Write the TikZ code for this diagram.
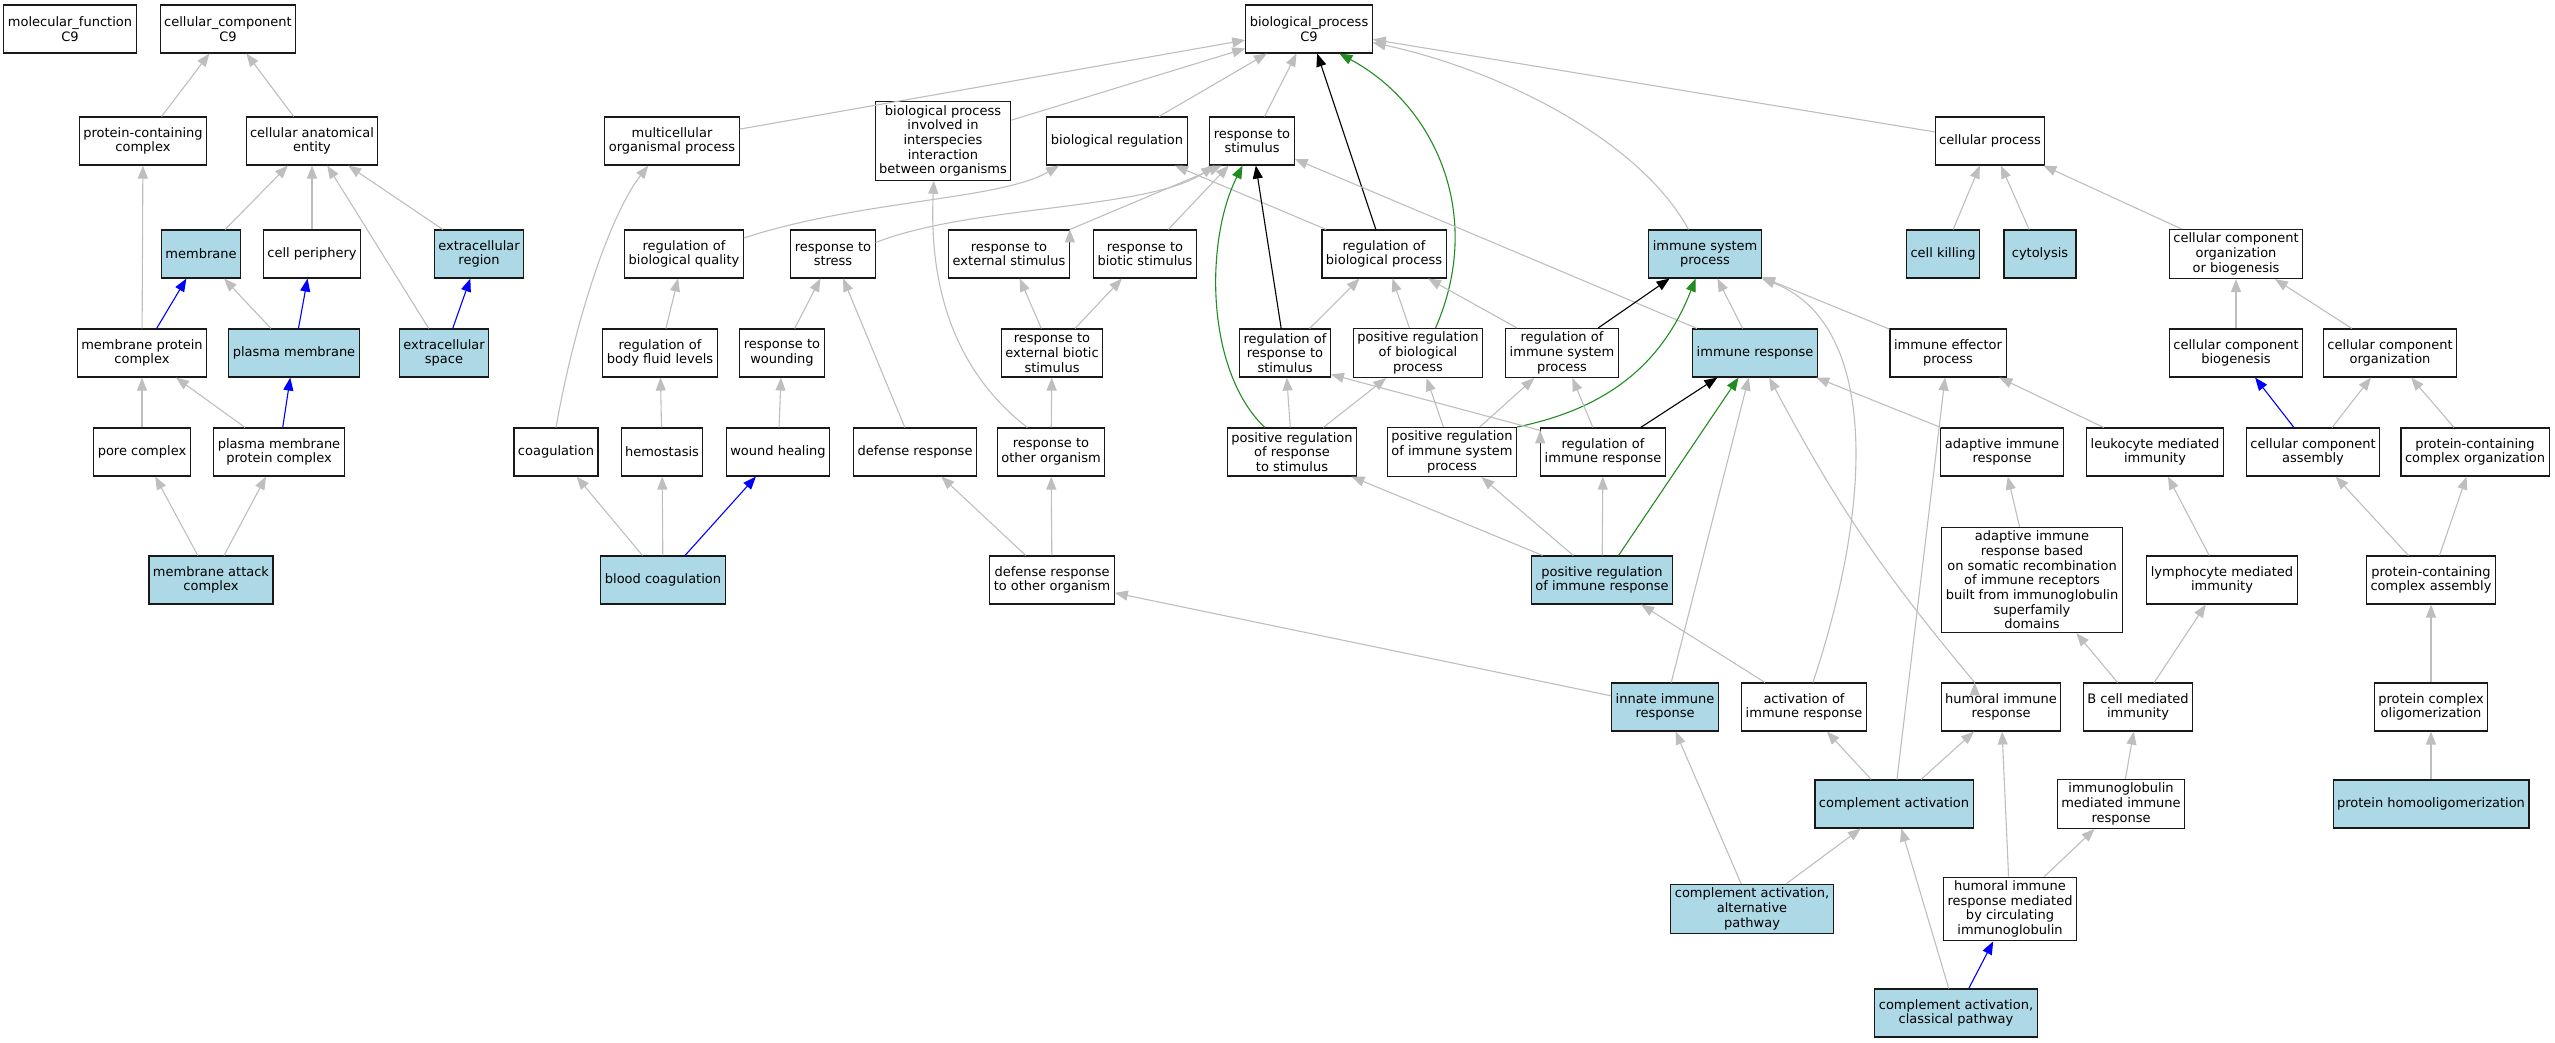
\documentclass[tikz,border=0pt]{standalone}
\usepackage{fontspec}
\setmainfont{DejaVu Sans}
\usepackage{xcolor}
\definecolor{hitblue}{RGB}{173,216,230}
\definecolor{linkgray}{RGB}{190,190,190}
\definecolor{darkgreen}{RGB}{34,139,34}
\usepackage{tikz}
\usetikzlibrary{arrows.meta}
\tikzset{
    term/.style={draw=black!90, line width=1.1pt, rectangle, fill=white, align=center,
        inner xsep=4pt, inner ysep=3.5pt, minimum width=72pt, minimum height=48pt,
        font=\fontsize{13}{14.7}\selectfont},
    term-hit/.style={term, fill=hitblue},
    link/.style={color=linkgray, draw, line width=1.1pt, -{Triangle[length=13pt, width=10pt]}},
    link-black/.style={link, color=black},
    link-blue/.style={link, color=blue},
    link-green/.style={link, color=darkgreen}
}
\begin{document}
\begin{tikzpicture}[x=1pt, y=-1pt]
    \useasboundingbox (0,0) rectangle (2555,1043);

    \node[term] (mf) at (70,29) {molecular\_function\\C9};
    \node[term] (cc) at (228,29) {cellular\_component\\C9};
    \node[term] (bp) at (1309,29) {biological\_process\\C9};

    \node[term] (pc-complex) at (143,141) {protein-containing\\complex};
    \node[term] (ca-entity) at (312,141) {cellular anatomical\\entity};
    \node[term] (mop) at (672,141) {multicellular\\organismal process};
    \node[term] (bp-inter) at (943,141) {biological process\\involved in\\interspecies\\interaction\\between organisms};
    \node[term] (bio-reg) at (1117,141) {biological regulation};
    \node[term] (resp-stim) at (1252,141) {response to\\stimulus};
    \node[term] (cell-proc) at (1990,141) {cellular process};

    \node[term-hit] (membrane) at (201,254) {membrane};
    \node[term] (cell-per) at (312,254) {cell periphery};
    \node[term-hit] (ec-region) at (479,254) {extracellular\\region};
    \node[term] (reg-bq) at (684,254) {regulation of\\biological quality};
    \node[term] (resp-stress) at (833,254) {response to\\stress};
    \node[term] (resp-ext) at (1009,254) {response to\\external stimulus};
    \node[term] (resp-biotic) at (1145,254) {response to\\biotic stimulus};
    \node[term] (reg-bp) at (1384,254) {regulation of\\biological process};
    \node[term-hit] (isp) at (1705,254) {immune system\\process};
    \node[term-hit] (cell-kill) at (1943,254) {cell killing};
    \node[term-hit] (cytolysis) at (2040,254) {cytolysis};
    \node[term] (cc-ob) at (2236,254) {cellular component\\organization\\or biogenesis};

    \node[term] (mp-complex) at (142,353) {membrane protein\\complex};
    \node[term-hit] (pl-membrane) at (294,353) {plasma membrane};
    \node[term-hit] (ec-space) at (444,353) {extracellular\\space};
    \node[term] (reg-bfl) at (660,353) {regulation of\\body fluid levels};
    \node[term] (resp-wound) at (782,353) {response to\\wounding};
    \node[term] (resp-extb) at (1052,353) {response to\\external biotic\\stimulus};
    \node[term] (reg-rs) at (1285,353) {regulation of\\response to\\stimulus};
    \node[term] (pos-reg-bp) at (1418,353) {positive regulation\\of biological\\process};
    \node[term] (reg-isp) at (1562,353) {regulation of\\immune system\\process};
    \node[term-hit] (imm-resp) at (1755,353) {immune response};
    \node[term] (imm-eff) at (1948,353) {immune effector\\process};
    \node[term] (cc-biog) at (2236,353) {cellular component\\biogenesis};
    \node[term] (cc-org) at (2390,353) {cellular component\\organization};

    \node[term] (pore) at (142,452) {pore complex};
    \node[term] (pmp-complex) at (279,452) {plasma membrane\\protein complex};
    \node[term] (coag) at (556,452) {coagulation};
    \node[term] (hemostasis) at (662,452) {hemostasis};
    \node[term] (wound-heal) at (778,452) {wound healing};
    \node[term] (def-resp) at (915,452) {defense response};
    \node[term] (resp-other) at (1051,452) {response to\\other organism};
    \node[term] (pos-reg-rs) at (1292,452) {positive regulation\\of response\\to stimulus};
    \node[term] (pos-reg-isp) at (1452,452) {positive regulation\\of immune system\\process};
    \node[term] (reg-ir) at (1603,452) {regulation of\\immune response};
    \node[term] (adapt-ir) at (2002,452) {adaptive immune\\response};
    \node[term] (leuk-imm) at (2155,452) {leukocyte mediated\\immunity};
    \node[term] (cc-assembly) at (2313,452) {cellular component\\assembly};
    \node[term] (pc-org) at (2475,452) {protein-containing\\complex organization};

    \node[term-hit] (mac) at (211,580) {membrane attack\\complex};
    \node[term-hit] (blood-coag) at (663,580) {blood coagulation};
    \node[term] (def-other) at (1052,580) {defense response\\to other organism};
    \node[term-hit] (pos-reg-ir) at (1602,580) {positive regulation\\of immune response};
    \node[term] (adapt-somatic) at (2032,580) {adaptive immune\\response based\\on somatic recombination\\of immune receptors\\built from immunoglobulin\\superfamily\\domains};
    \node[term] (lymph-imm) at (2222,580) {lymphocyte mediated\\immunity};
    \node[term] (pc-assembly) at (2431,580) {protein-containing\\complex assembly};

    \node[term-hit] (innate) at (1665,707) {innate immune\\response};
    \node[term] (act-ir) at (1804,707) {activation of\\immune response};
    \node[term] (humoral) at (2001,707) {humoral immune\\response};
    \node[term] (bcell-imm) at (2138,707) {B cell mediated\\immunity};
    \node[term] (pc-oligo) at (2431,707) {protein complex\\oligomerization};

    \node[term-hit] (compl-act) at (1894,804) {complement activation};
    \node[term] (ig-imm) at (2121,804) {immunoglobulin\\mediated immune\\response};
    \node[term-hit] (homo-oligo) at (2431,804) {protein homooligomerization};

    \node[term-hit] (compl-alt) at (1752,909) {complement activation,\\alternative\\pathway};
    \node[term] (humoral-circ) at (2010,909) {humoral immune\\response mediated\\by circulating\\immunoglobulin};

    \node[term-hit] (compl-class) at (1956,1013) {complement activation,\\classical pathway};

    \path[link] (pc-complex) edge (cc);
    \path[link] (ca-entity) edge (cc);
    \path[link] (membrane) edge (ca-entity);
    \path[link] (cell-per) edge (ca-entity);
    \path[link] (ec-space) edge (ca-entity);
    \path[link] (ec-region) edge (ca-entity);
    \path[link] (mp-complex) edge (pc-complex);
    \path[link-blue] (mp-complex) edge (membrane);
    \path[link] (pl-membrane) edge (membrane);
    \path[link-blue] (pl-membrane) edge (cell-per);
    \path[link-blue] (ec-space) edge (ec-region);
    \path[link] (pore) edge (mp-complex);
    \path[link] (pmp-complex) edge (mp-complex);
    \path[link-blue] (pmp-complex) edge (pl-membrane);
    \path[link] (mac) edge (pore) edge (pmp-complex);

    \path[link] (mop) edge (bp);
    \path[link] (bp-inter) edge (bp);
    \path[link] (bio-reg) edge (bp);
    \path[link] (resp-stim) edge (bp);
    \path[link-black] (reg-bp) edge (bp);
    \draw[link-green] (pos-reg-bp.55) .. controls (1485,215) and (1435,105) .. (bp.-39);
    \draw[link] (isp.124) .. controls (1640,140) and (1500,70) .. (bp.-12);
    \path[link] (cell-proc) edge (bp);

    \draw[link] (reg-bq.15) .. controls (860,200) and (1000,200) .. (bio-reg.-157);
    \path[link] (reg-bp) edge (bio-reg);
    \draw[link] (resp-stress.15) .. controls (970,205) and (1150,210) .. (resp-stim.-147);
    \path[link] (resp-ext.north east) edge (resp-stim.-141);
    \path[link] (resp-biotic) edge (resp-stim);
    \path[link-black] (reg-rs) edge (resp-stim);
    \draw[link-green] (pos-reg-rs.138) .. controls (1205,370) and (1205,240) .. (resp-stim.-111);
    \path[link] (imm-resp) edge (resp-stim);

    \path[link] (reg-bfl) edge (reg-bq);
    \path[link] (resp-wound) edge (resp-stress);
    \path[link] (def-resp) edge (resp-stress);
    \path[link] (resp-extb) edge (resp-ext) edge (resp-biotic);
    \path[link] (resp-other) edge (resp-extb);
    \draw[link] (resp-other.134) .. controls (940,360) and (930,260) .. (bp-inter.-103);
    \draw[link] (coag.north) .. controls (575,320) and (610,215) .. (mop.-134);
    \path[link] (hemostasis) edge (reg-bfl);
    \path[link] (wound-heal) edge (resp-wound);
    \path[link] (blood-coag) edge (coag) edge (hemostasis);
    \path[link-blue] (blood-coag) edge (wound-heal);
    \path[link] (def-other) edge (def-resp) edge (resp-other);
    \path[link] (innate) edge (def-other) edge (imm-resp);

    \path[link] (reg-rs) edge (reg-bp);
    \path[link] (pos-reg-bp) edge (reg-bp);
    \path[link] (reg-isp) edge (reg-bp);
    \path[link-black] (reg-isp) edge (isp);
    \draw[link-green] (pos-reg-isp.north east) .. controls (1600,410) and (1660,370) .. (isp.-111);
    \path[link] (imm-resp) edge (isp);
    \path[link] (imm-eff) edge (isp);
    \draw[link] (act-ir.70) .. controls (1880,480) and (1870,320) .. (isp.south east);
    \path[link] (pos-reg-rs) edge (reg-rs) edge (pos-reg-bp);
    \path[link] (pos-reg-isp) edge (pos-reg-bp) edge (reg-isp);
    \path[link] (reg-ir.161) edge (reg-rs.-25);
    \path[link] (reg-ir) edge (reg-isp);
    \path[link-black] (reg-ir) edge (imm-resp);
    \path[link] (pos-reg-ir) edge (pos-reg-rs) edge (pos-reg-isp) edge (reg-ir);
    \path[link-green] (pos-reg-ir) edge (imm-resp);
    \path[link] (humoral.137) edge[bend left=6] (imm-resp.-60);
    \path[link] (adapt-ir) edge (imm-resp);
    \path[link] (act-ir) edge (pos-reg-ir);

    \path[link] (compl-act) edge (imm-eff) edge (act-ir) edge (humoral);
    \path[link] (leuk-imm) edge (imm-eff);
    \path[link] (adapt-somatic) edge (adapt-ir);
    \path[link] (lymph-imm) edge (leuk-imm);
    \path[link] (bcell-imm) edge (adapt-somatic) edge (lymph-imm);
    \path[link] (ig-imm) edge (bcell-imm);
    \path[link] (humoral-circ) edge (humoral) edge (ig-imm);
    \path[link] (compl-alt) edge (innate) edge (compl-act);
    \path[link] (compl-class) edge (compl-act);
    \path[link-blue] (compl-class) edge (humoral-circ);

    \path[link] (cell-kill) edge (cell-proc);
    \path[link] (cytolysis) edge (cell-proc);
    \path[link] (cc-ob) edge (cell-proc);
    \path[link] (cc-biog) edge (cc-ob);
    \path[link] (cc-org) edge (cc-ob);
    \path[link-blue] (cc-assembly) edge (cc-biog);
    \path[link] (cc-assembly) edge (cc-org);
    \path[link] (pc-org) edge (cc-org);
    \path[link] (pc-assembly) edge (cc-assembly) edge (pc-org);
    \path[link] (pc-oligo) edge (pc-assembly);
    \path[link] (homo-oligo) edge (pc-oligo);
\end{tikzpicture}
\end{document}
